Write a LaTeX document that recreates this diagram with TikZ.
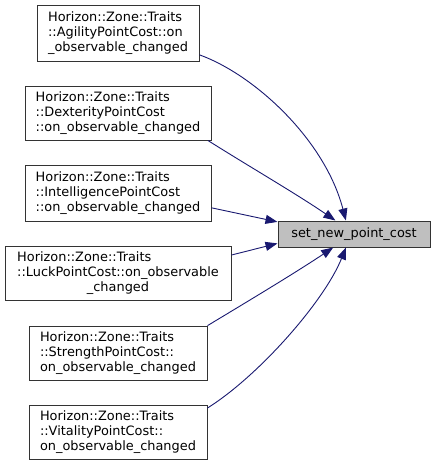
\documentclass[tikz,border=0pt]{standalone}
\usepackage{fontspec}
\setmainfont{DejaVu Sans}
\usetikzlibrary{arrows.meta}
\definecolor{edgeblue}{HTML}{191970}
\definecolor{tgtfill}{HTML}{BFBFBF}
\definecolor{boxline}{HTML}{333333}
\newcommand{\threelines}[3]{\begin{tabular}{@{}l@{}}#1\\#2\\\multicolumn{1}{@{}c@{}}{#3}\end{tabular}}
\tikzset{
  fnbox/.style={draw=boxline, line width=1pt, fill=white, inner sep=0pt, align=center},
  tgtbox/.style={draw=boxline, line width=1pt, fill=tgtfill, inner sep=0pt},
  calledge/.style={draw=edgeblue, line width=0.9pt, -{Triangle[length=12pt,width=9pt]}, color=edgeblue}
}
\begin{document}
\begin{tikzpicture}[x=1pt, y=-1pt, font=\fontsize{12.9}{15}\selectfont]
\useasboundingbox (0,0) rectangle (435,467);
\node[fnbox, minimum width=162pt, minimum height=56pt] (b1) at (118,33)
  {\threelines{Horizon::Zone::Traits}{::AgilityPointCost::on}{\_observable\_changed}};
\node[fnbox, minimum width=186pt, minimum height=54pt] (b2) at (118,113)
  {\threelines{Horizon::Zone::Traits}{::DexterityPointCost}{::on\_observable\_changed}};
\node[fnbox, minimum width=186pt, minimum height=56pt] (b3) at (118,193)
  {\threelines{Horizon::Zone::Traits}{::IntelligencePointCost}{::on\_observable\_changed}};
\node[fnbox, minimum width=226pt, minimum height=54pt] (b4) at (118,273)
  {\threelines{Horizon::Zone::Traits}{::LuckPointCost::on\_observable}{\_changed}};
\node[fnbox, minimum width=178pt, minimum height=54pt] (b5) at (118,353)
  {\threelines{Horizon::Zone::Traits}{::StrengthPointCost::}{on\_observable\_changed}};
\node[fnbox, minimum width=178pt, minimum height=54pt] (b6) at (118,432)
  {\threelines{Horizon::Zone::Traits}{::VitalityPointCost::}{on\_observable\_changed}};
\node[tgtbox, minimum width=152pt, minimum height=26pt] (t) at (354,234) {set\_new\_point\_cost};

\draw[calledge] (b1.-15.2) .. controls (255,75) and (325,140) .. (t.121.6);
\draw[calledge] (b2.-17.6) .. controls (250,167) and (295,193) .. (t.144.2);
\draw[calledge] (b3.-9.8) -- (t.171);
\draw[calledge] (b4.9.5) -- (t.-173.2);
\draw[calledge] (b5.17.6) .. controls (250,300) and (295,273) .. (t.213.7);
\draw[calledge] (b6.15.7) .. controls (260,375) and (325,300) .. (t.239.7);
\end{tikzpicture}
\end{document}
